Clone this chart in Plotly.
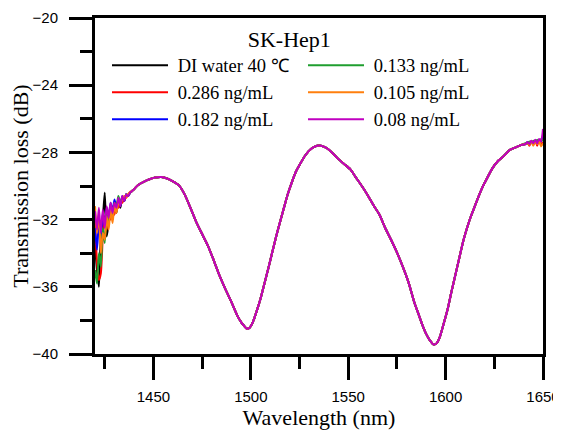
import plotly.graph_objects as go

# ---- data -------------------------------------------------------------
series_names = ["DI water 40 ℃", "0.286 ng/mL", "0.182 ng/mL",
                "0.133 ng/mL", "0.105 ng/mL", "0.08 ng/mL"]
series_colors = ["#000000", "#ff0000", "#0000ff", "#1f9e2f", "#ff7f0e", "#c000c0"]
legend_ranks = [1, 3, 5, 2, 4, 6]

# noisy start of the spectrum (1420-1439 nm), one list per series
head_wl = [1420, 1421, 1422, 1423, 1424, 1425, 1426, 1427, 1428, 1429,
           1430, 1431, 1432, 1433, 1434, 1435, 1436, 1437, 1438, 1439]
head_di = [-33.5, -35.0, -36.0, -33.0, -32.0, -30.4, -33.0, -32.2, -31.4, -32.0,
           -31.2, -31.6, -30.8, -31.3, -30.7, -30.9, -30.5, -30.6, -30.4, -30.3]
head_286 = [-32.0, -34.5, -35.6, -35.2, -33.0, -31.8, -32.6, -31.6, -32.0, -31.3,
            -31.7, -31.0, -31.3, -30.9, -31.0, -30.7, -30.7, -30.5, -30.4, -30.3]
head_182 = [-32.5, -33.8, -32.2, -33.2, -31.6, -32.4, -31.3, -31.9, -31.0, -31.5,
            -30.8, -31.3, -30.8, -31.2, -30.6, -30.9, -30.5, -30.6, -30.4, -30.3]
head_133 = [-35.0, -35.8, -34.0, -34.8, -32.5, -33.4, -31.6, -32.3, -31.2, -31.8,
            -31.0, -31.2, -30.6, -31.0, -30.7, -30.8, -30.5, -30.55, -30.4, -30.3]
head_105 = [-31.2, -32.8, -31.6, -34.0, -32.8, -33.2, -31.8, -32.6, -31.4, -32.2,
            -31.2, -31.6, -31.0, -31.1, -30.8, -30.6, -30.7, -30.5, -30.35, -30.3]
head_08 = [-31.5, -32.6, -31.3, -32.8, -31.4, -32.5, -31.2, -31.9, -31.0, -31.6,
           -31.0, -31.3, -30.7, -31.2, -30.6, -30.9, -30.5, -30.6, -30.4, -30.3]

# common smooth interference spectrum (all series overlap here)
smooth_wl = [1440, 1442, 1445, 1448, 1451, 1454, 1457, 1460, 1463, 1466,
             1469, 1472, 1475, 1478, 1481, 1484, 1487, 1490, 1493, 1495,
             1496.5, 1498, 1499.5, 1501, 1503, 1505, 1507, 1509, 1511, 1513,
             1515, 1517, 1519, 1521, 1523, 1525, 1528, 1531, 1534, 1536,
             1539, 1542, 1545, 1548, 1551, 1554, 1557, 1560, 1563, 1566,
             1569, 1572, 1575, 1578, 1581, 1584, 1586, 1588, 1590, 1592,
             1594, 1595.5, 1597, 1599, 1601, 1603, 1605, 1607, 1609, 1611,
             1613, 1615, 1617, 1619, 1621, 1624, 1627, 1630, 1633, 1636, 1639]
smooth_tl = [-30.2, -29.95, -29.75, -29.6, -29.5, -29.47, -29.55, -29.72, -29.95, -30.5,
             -31.3, -32.15, -32.86, -33.56, -34.44, -35.35, -36.15, -36.9, -37.7, -38.1,
             -38.32, -38.5, -38.42, -38.12, -37.45, -36.7, -35.8, -34.9, -33.95, -33.0,
             -32.14, -31.3, -30.48, -29.8, -29.18, -28.75, -28.17, -27.78, -27.6, -27.6,
             -27.75, -28.05, -28.4, -28.7, -29.0, -29.5, -30.0, -30.55, -31.15, -31.7,
             -32.5, -33.2, -33.95, -34.8, -35.75, -36.95, -37.6, -38.25, -38.8, -39.2,
             -39.44, -39.35, -39.0, -38.2, -37.35, -36.3, -35.3, -34.3, -33.3, -32.5,
             -31.8, -31.2, -30.6, -30.05, -29.6, -28.95, -28.5, -28.2, -27.85, -27.7, -27.55]

# noisy end of the spectrum (1641-1650 nm)
tail_wl = [1641, 1642, 1643, 1644, 1645, 1646, 1647, 1648, 1649, 1650]
tail_di = [-27.5, -27.45, -27.5, -27.4, -27.45, -27.35, -27.4, -27.3, -27.35, -27.2]
tail_286 = [-27.5, -27.4, -27.6, -27.35, -27.55, -27.3, -27.6, -27.25, -27.55, -27.4]
tail_182 = [-27.5, -27.4, -27.45, -27.35, -27.4, -27.3, -27.35, -27.25, -27.3, -27.1]
tail_133 = [-27.45, -27.5, -27.35, -27.45, -27.3, -27.4, -27.25, -27.4, -27.2, -27.3]
tail_105 = [-27.5, -27.45, -27.55, -27.3, -27.6, -27.35, -27.5, -27.3, -27.65, -27.45]
tail_08 = [-27.5, -27.4, -27.5, -27.3, -27.45, -27.25, -27.45, -27.2, -27.35, -26.6]

heads = [head_di, head_286, head_182, head_133, head_105, head_08]
tails = [tail_di, tail_286, tail_182, tail_133, tail_105, tail_08]

x_tickvals = [1450, 1500, 1550, 1600, 1650]
y_tickvals = [-40, -36, -32, -28, -24, -20]

# ---- figure -----------------------------------------------------------
fig = go.Figure()
for name, color, rank, head, tail in zip(series_names, series_colors,
                                         legend_ranks, heads, tails):
    fig.add_trace(go.Scatter(
        x=head_wl + smooth_wl + tail_wl,
        y=head + smooth_tl + tail,
        mode="lines",
        name="&nbsp;" + name,
        legendrank=rank,
        line=dict(color=color, width=2, shape="spline", smoothing=0.6),
    ))

axis_common = dict(
    showline=True, linecolor="black", linewidth=3, mirror=True,
    ticks="outside", ticklen=23, tickwidth=3, tickcolor="black",
    showgrid=False, zeroline=False, automargin=False,
    tickfont=dict(family="Liberation Sans, Arial", size=15, color="black"),
)

fig.update_xaxes(
    range=[1420, 1650], tickvals=x_tickvals, ticklabelstandoff=4,
    minor=dict(ticks="outside", ticklen=12, tickwidth=3, tickcolor="black",
               dtick=25, tick0=1425),
    title=dict(text="Wavelength (nm)", standoff=5,
               font=dict(family="Liberation Serif, Times New Roman", size=22,
                         color="black")),
    **axis_common,
)
fig.update_yaxes(
    range=[-40, -20], tickvals=y_tickvals, ticklabelstandoff=8,
    minor=dict(ticks="outside", ticklen=12, tickwidth=3, tickcolor="black",
               dtick=2, tick0=-40),
    title=dict(text="Transmission loss (dB)", standoff=6,
               font=dict(family="Liberation Serif, Times New Roman", size=22,
                         color="black")),
    **axis_common,
)

# the page body adds an 8 px offset, so the figure is 8 px smaller
fig.update_layout(
    width=553, height=424,
    margin=dict(l=87, r=18, t=10, b=78),
    paper_bgcolor="white", plot_bgcolor="white",
    legend=dict(
        orientation="h", x=0.0268, xanchor="left", y=1.0, yanchor="top",
        bgcolor="rgba(0,0,0,0)", borderwidth=0,
        itemwidth=56, entrywidth=125, entrywidthmode="pixels",
        font=dict(family="Liberation Serif, Times New Roman", size=18.5,
                  color="black"),
        title=dict(text="SK-Hep1" + "&nbsp;" * 5, side="top center",
                   font=dict(family="Liberation Serif, Times New Roman",
                             size=22, color="black")),
        traceorder="normal",
    ),
    showlegend=True,
)

fig.write_html("out.html")
